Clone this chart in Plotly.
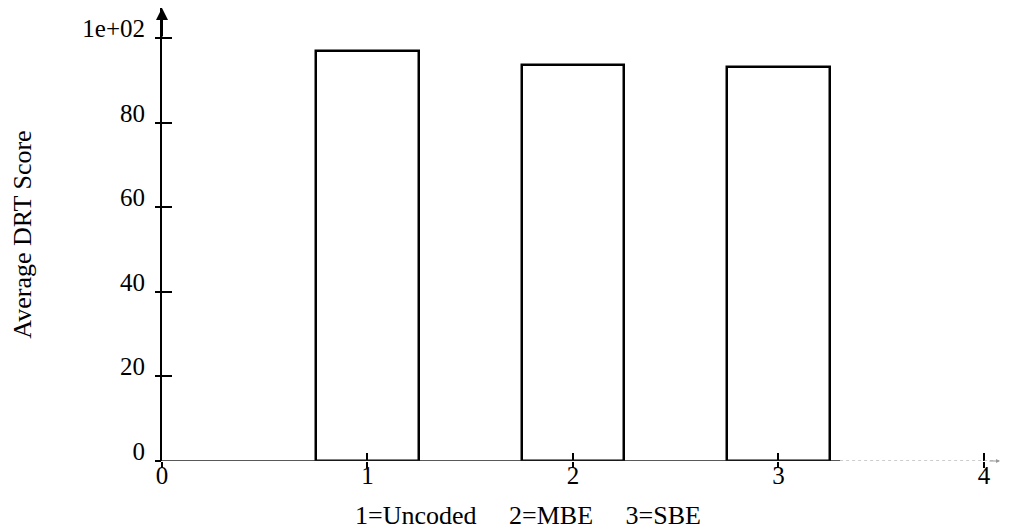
import plotly.graph_objects as go

# Data
categories = [1, 2, 3]
scores = [97.0, 93.7, 93.3]
x_tickvals = [0, 1, 2, 3, 4]
x_ticktext = ["0", "1", "2", "3", "4"]
y_tickvals = [0, 20, 40, 60, 80, 100]
y_ticktext = ["0", "20", "40", "60", "80", "1e+02"]
x_title = "1=Uncoded\u00a0\u00a0\u00a0\u00a0\u00a02=MBE\u00a0\u00a0\u00a0\u00a0\u00a03=SBE"
y_title = "Average DRT Score"

XMAX = 4.078
YMAX = 107.2
FONT = "Liberation Serif"

fig = go.Figure()
fig.add_trace(go.Bar(
    x=categories, y=scores, width=0.5,
    marker=dict(color="white", line=dict(color="black", width=2.5)),
    showlegend=False, hoverinfo="skip",
))
# invisible trace for overlay axes
fig.add_trace(go.Scatter(x=[0], y=[0], xaxis="x2", yaxis="y2", mode="markers",
                         marker=dict(opacity=0), showlegend=False, hoverinfo="skip"))

fig.update_layout(
    width=1001, height=524,
    margin=dict(l=154, r=9, t=0, b=71, autoexpand=False),
    paper_bgcolor="white", plot_bgcolor="white",
    font=dict(family=FONT, size=25, color="black"),
    xaxis=dict(range=[0, XMAX], tickvals=x_tickvals, ticktext=x_ticktext,
               ticks="inside", ticklen=8, tickwidth=1.5, tickcolor="black",
               showline=False, showgrid=False, zeroline=False, ticklabelstandoff=-3,
               tickfont=dict(family=FONT, size=25, color="black")),
    yaxis=dict(range=[0, YMAX], tickvals=y_tickvals, ticktext=y_ticktext,
               ticks="inside", ticklen=10, tickwidth=1.5, tickcolor="black",
               showline=True, linecolor="black", linewidth=2,
               showgrid=False, zeroline=False, ticklabelshift=-10, ticklabelstandoff=10,
               tickfont=dict(family=FONT, size=25, color="black"),
               title=dict(text=y_title, font=dict(family=FONT, size=26, color="black"), standoff=45),
               automargin=False),
    xaxis2=dict(range=[0, XMAX], overlaying="x", side="bottom", tickvals=x_tickvals,
                ticks="outside", ticklen=6, tickwidth=1.5, tickcolor="black",
                showticklabels=False, showline=False, showgrid=False, zeroline=False),
    yaxis2=dict(range=[0, YMAX], overlaying="y", side="left", tickvals=y_tickvals,
                ticks="outside", ticklen=6, tickwidth=1.5, tickcolor="black",
                showticklabels=False, showline=False, showgrid=False, zeroline=False),
    bargap=0,
)

# x-axis title placed as annotation (offset left of centre as in the reference)
fig.add_annotation(text=x_title, xref="paper", yref="paper", x=(528 - 162) / 838, y=0,
                   yshift=-54, xanchor="center", yanchor="middle", showarrow=False,
                   font=dict(family=FONT, size=26, color="black"))

# x-axis baseline: solid then faint dotted
fig.add_shape(type="line", xref="x", yref="y", x0=0, x1=3.3, y0=0, y1=0,
              line=dict(color="#222222", width=1.5))
fig.add_shape(type="line", xref="x", yref="y", x0=3.3, x1=XMAX, y0=0, y1=0,
              line=dict(color="#999999", width=1.2, dash="dot"))

# arrowheads
fig.add_annotation(x=0, y=YMAX, xref="x", yref="y", ax=0, ay=30, showarrow=True,
                   arrowhead=2, arrowsize=1.2, arrowwidth=2, arrowcolor="black", text="")
fig.add_annotation(x=XMAX, y=0, xref="x", yref="y", ax=-12, ay=0, showarrow=True,
                   arrowhead=2, arrowsize=0.8, arrowwidth=1, arrowcolor="#999999", text="")

fig.write_html("out.html")
